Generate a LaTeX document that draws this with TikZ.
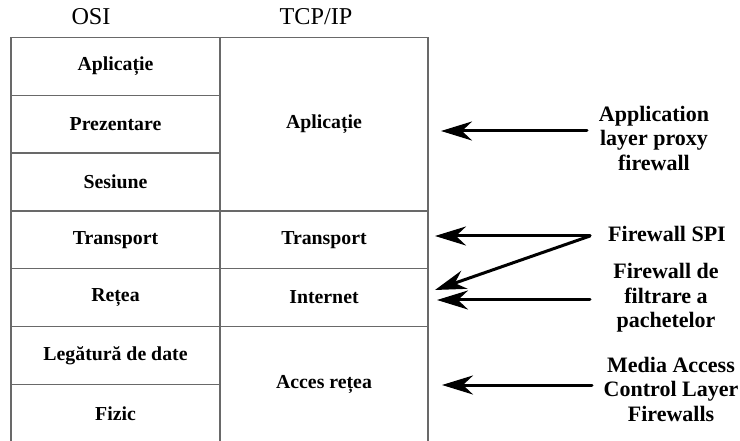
\documentclass[tikz,border=0pt]{standalone}
\usepackage{fontspec}
\setmainfont{LiberationSerif}[Extension=.ttf, UprightFont=*-Regular, BoldFont=*-Bold]
\usepackage{xcolor}
\usetikzlibrary{arrows.meta, positioning, calc}
\definecolor{gridgray}{RGB}{105,105,105}

\begin{document}
\begin{tikzpicture}[x=1pt, y=-1pt,
    cell/.style={rectangle, draw=gridgray, line width=1.2pt, inner sep=0pt,
        font=\bfseries\fontsize{19.8}{23}\selectfont},
    osicell/.style={cell, minimum width=209pt, minimum height=57.7pt},
    heading/.style={font=\fontsize{24.2}{27}\selectfont},
    fwlabel/.style={align=center, font=\bfseries\fontsize{22}{24.5}\selectfont},
    fwarrow/.style={line width=3pt, line cap=round,
        -{Stealth[length=31pt, width=19pt, inset=10pt]}}]
    \useasboundingbox (0,0) rectangle (740,441);

    \node[heading] (osihead) at (91,17) {OSI};
    \node[heading] (tcphead) at (316,17) {TCP/IP};

    \node[osicell] (osiapl) at (115.5,66.4) {Aplicație};
    \node[osicell] (osipre) at (115.5,124.2) {Prezentare};
    \node[osicell] (osises) at (115.5,182) {Sesiune};
    \node[osicell] (ositr) at (115.5,239.9) {Transport};
    \node[osicell] (osiret) at (115.5,297.6) {Rețea};
    \node[osicell] (osild) at (115.5,355.3) {Legătură de date};
    \node[osicell, minimum height=58.2pt] (osifiz) at (115.5,413.4) {Fizic};

    \node[cell, minimum width=208pt, minimum height=173.5pt] (tcpapl) at (324,124.25) {Aplicație};
    \node[cell, minimum width=208pt, minimum height=57.7pt] (tcptr) at (324,239.9) {Transport};
    \node[cell, minimum width=208pt, minimum height=57.7pt] (tcpint) at (324,297.6) {Internet};
    \node[cell, minimum width=208pt, minimum height=116.1pt] (tcpacc) at (324,384.45) {Acces rețea};

    \node[fwlabel] (proxylbl) at (654,138) {Application\\layer proxy\\firewall};
    \node[fwlabel] (spilbl) at (667,234) {Firewall SPI};
    \node[fwlabel] (pktlbl) at (666,298) {Firewall de\\filtrare a\\pachetelor};
    \node[fwlabel] (maclbl) at (671,389) {Media Access\\Control Layer\\Firewalls};

    \coordinate (proxytail) at (587,131);
    \coordinate (proxytip) at (441,131);
    \coordinate (spitail) at (590,236);
    \coordinate (spitip) at (435,236);
    \coordinate (spitipb) at (435,290);
    \coordinate (pkttail) at (590,300);
    \coordinate (pkttip) at (437,300);
    \coordinate (mactail) at (592,385);
    \coordinate (mactip) at (442,385);

    \draw[fwarrow] (proxytail) -- (proxytip);
    \draw[fwarrow] (spitail) -- (spitip);
    \draw[fwarrow] (spitail) -- (spitipb);
    \draw[fwarrow] (pkttail) -- (pkttip);
    \draw[fwarrow] (mactail) -- (mactip);
\end{tikzpicture}
\end{document}
